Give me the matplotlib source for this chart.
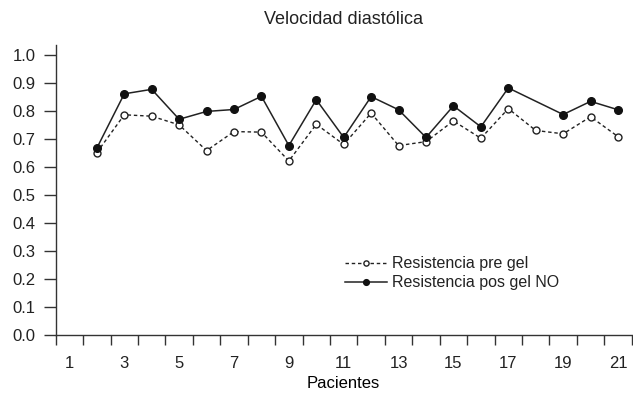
import numpy as np
import matplotlib
matplotlib.use("Agg")
import matplotlib.pyplot as plt
from matplotlib.ticker import FixedLocator, NullFormatter

# --- Data ---
PATIENTS = list(range(2, 22))
PRE_GEL = [0.651, 0.786, 0.781, 0.750, 0.658, 0.726, 0.724, 0.621, 0.752, 0.680,
           0.792, 0.676, 0.690, 0.764, 0.702, 0.808, 0.730, 0.718, 0.779, 0.708]
POS_GEL = [0.667, 0.861, 0.877, 0.770, 0.798, 0.805, 0.852, 0.676, 0.840, 0.705,
           0.851, 0.804, 0.705, 0.818, 0.743, 0.882, None, 0.787, 0.834, 0.804]
X_LABELS = [str(i) for i in range(1, 22, 2)]
Y_TICKS = [round(0.1 * i, 1) for i in range(11)]

plt.rcParams['font.family'] = ['Liberation Sans', 'DejaVu Sans']
plt.rcParams['font.size'] = 12
plt.rcParams['text.color'] = '#222222'


def main():
    fig = plt.figure(figsize=(6.33, 3.97), dpi=100)
    ax = fig.add_axes([0.088, 0.157, 0.910, 0.730])

    # pos gel has a gap at patient 18, line joins across it
    pos_x = [p for p, v in zip(PATIENTS, POS_GEL) if v is not None]
    pos_y = [v for v in POS_GEL if v is not None]

    ax.plot(PATIENTS, PRE_GEL, color='#222222', lw=1.0, ls=(0, (2.5, 2)),
            marker='o', ms=5, mfc='white', mec='#222222', mew=1.0,
            label='Resistencia pre gel')
    ax.plot(pos_x, pos_y, color='#222222', lw=1.1, ls='-',
            marker='o', ms=5.5, mfc='#111111', mec='#111111',
            label='Resistencia pos gel NO')

    ax.set_xlim(0.5, 21.5)
    ax.set_ylim(0, 1.036)

    # ticks sit between patients, labels on every other patient
    ax.xaxis.set_major_locator(FixedLocator(np.arange(0.5, 22, 1)))
    ax.xaxis.set_major_formatter(NullFormatter())
    ax.xaxis.set_minor_locator(FixedLocator(range(1, 22, 2)))
    ax.set_xticklabels(X_LABELS, minor=True)
    ax.tick_params(axis='x', which='major', direction='out', length=7, width=1, color='#333333')
    ax.tick_params(axis='x', which='minor', length=0, pad=15, labelsize=12,
                   labelcolor='#222222')

    ax.set_yticks(Y_TICKS)
    ax.set_yticklabels([f"{v:.1f}" for v in Y_TICKS])
    ax.tick_params(axis='y', direction='out', length=8.4, width=1, color='#333333',
                   pad=6.3, labelsize=12, labelcolor='#222222')

    for side in ['top', 'right']:
        ax.spines[side].set_visible(False)
    for side in ['left', 'bottom']:
        ax.spines[side].set_color('#333333')
        ax.spines[side].set_linewidth(1.0)

    ax.set_title("Velocidad diastólica", fontsize=13, pad=15)
    ax.set_xlabel("Pacientes", fontsize=12, labelpad=4)

    ax.legend(loc='center left', bbox_to_anchor=(0.478, 0.212), frameon=False,
              handlelength=2.6, handletextpad=0.3, labelspacing=0.25,
              markerscale=0.75, fontsize=11.5)

    fig.savefig("out.png", dpi=100)


if __name__ == "__main__":
    main()
